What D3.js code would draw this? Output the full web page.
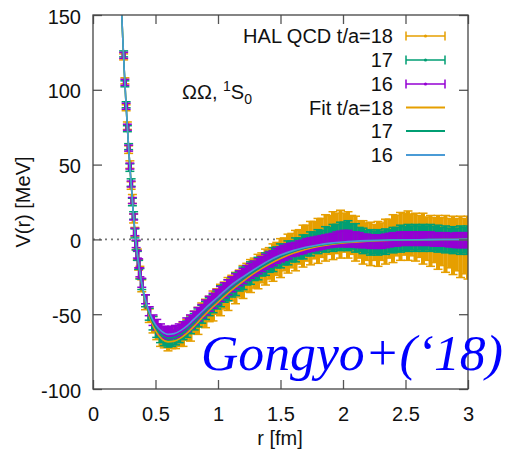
<!DOCTYPE html>
<html>
<head>
<meta charset="utf-8">
<script src="https://cdn.jsdelivr.net/npm/d3@7"></script>
<style>
  html, body { margin: 0; padding: 0; background: #fff; }
  svg { display: block; }
</style>
</head>
<body>
<svg id="chart" width="507" height="451"></svg>
<script>
// ---------------- data ----------------
const xTicks = [0, 0.5, 1, 1.5, 2, 2.5, 3];
const xTickLabels = ["0", "0.5", "1", "1.5", "2", "2.5", "3"];
const yTicks = [-100, -50, 0, 50, 100, 150];
const yTickLabels = ["-100", "-50", "0", "50", "100", "150"];

// lattice distances r [fm]
const rData = [
  0.245,0.255,0.265,0.275,0.285,0.295,0.305,0.315,0.325,0.335,0.345,0.355,0.365,0.375,
  0.39,0.42,0.45,0.48,0.51,0.54,0.57,0.60,0.63,0.66,
  0.69,0.72,0.75,0.78,0.81,0.84,0.87,0.90,0.93,0.96,
  0.99,1.02,1.05,1.08,1.11,1.14,1.17,1.20,1.23,1.26,
  1.29,1.32,1.35,1.38,1.41,1.44,1.47,1.50,1.53,1.56,
  1.59,1.62,1.65,1.68,1.71,1.74,1.77,1.80,1.83,1.86,
  1.89,1.92,1.95,1.98,2.01,2.04,2.07,2.10,2.13,2.16,
  2.19,2.22,2.25,2.28,2.31,2.34,2.37,2.40,2.43,2.46,
  2.49,2.52,2.55,2.58,2.61,2.64,2.67,2.70,2.73,2.76,
  2.79,2.82,2.85,2.88,2.91,2.94,2.97,3.00
];

// HAL QCD t/a = 18
const v18 = [
  122,106,88,76,60,50,36,27,14,5,-4,-10,-17,-22,
  -31,-42,-51,-57,-62,-65,-67,-67.5,-67,-66,
  -65,-63.5,-60.5,-59.5,-55.5,-54.5,-50.5,-49.5,-46.5,-44.5,
  -41.5,-40.5,-37.5,-36.5,-32.5,-32.5,-29.5,-28.5,-25.5,-24.5,
  -22.5,-21.5,-19,-18.5,-16,-15.5,-13,-12.5,-10,-9.5,
  -7.5,-7.5,-5,-4.5,-2.5,-2.5,-0.5,-1,1,1,
  3,2.5,4,3.5,4.5,3,3,0.5,0,-2,
  -1.5,-3,-2,-3,-1.5,-1.5,0.5,0.5,2.5,2,
  3.5,2.5,3,1.5,2,0.5,0.5,-1,-0.5,-2,
  -1.5,-3,-2.5,-4,-3.5,-5,-4.5,-5.5
];
const e18 = [
  2,2,2,2.5,2.5,2.5,2.5,3,3,3,3,3.5,3.5,4,
  4,5,4.5,5.5,5,6.5,5.5,7,6,7,
  6.5,8,7,8.5,7.5,9,8,9.5,8.5,10,
  8.5,10.5,9,11,8.5,10.5,9,11,9.5,11,
  10,11.5,10,12,10.5,12.5,11,13,11,13,
  11.5,13.5,11.5,14,12,14.5,12.5,15,13,15.5,
  13,16,13.5,16,13,15.5,13,15,12.5,14.5,
  12.5,14.5,12,15,12.5,15,13,16,13.5,16,
  14,16.5,14,16,14,17,14.5,17,15,18,
  16,19,16.5,19.5,17.5,20.5,18.5,21
];

// HAL QCD t/a = 17
const v17 = [
  124,104,90,74,62,48,38,25,16,4,-4,-11,-17,-23,
  -30,-41,-50,-56,-61,-64,-66,-67,-66.5,-65.5,
  -64,-62,-60,-57.5,-55,-52.5,-50,-47.5,-45,-43,
  -40.5,-38,-36,-34,-32,-30,-28,-26,-24,-22.5,
  -21,-19.5,-18,-16.5,-15,-13.5,-12,-11,-10,-9,
  -8,-7,-6,-5,-4,-3,-2,-1.5,-1,0,
  0.5,1,1.5,2,2.5,2.5,2,1,0,-1,
  -1.5,-2,-2,-2,-2,-1.5,-1,-0.5,0,0.5,
  0.5,1,1,1,1,1,1,1,0.5,0.5,
  0,0,-0.5,-0.5,-0.5,-0.5,-0.5,-0.5
];
const e17 = [
  2,2,2,2,2,2.5,2.5,2.5,2.5,3,3,3,3,3.5,
  3.5,4,4,4.5,4.5,5,5,5,5,5,
  5,5,5.5,5.5,5.5,6,6,6,6,6,
  6,7,6,7,6.5,7.5,6.5,7.5,6.5,7.5,
  6.5,7.5,6.5,7.5,7,8,7,8,7,8,
  7,8,7,8,7,8,7,8,7,8.5,
  7.5,9,8.5,9.5,9,10,8.5,9.5,8,8.5,
  7.5,8.5,7.5,8.5,7.5,8.5,7.5,8.5,8,9,
  8,9,8,9,8,9,8,9,8,9,
  8,9,8,9,8,9.5,8.5,9.5
];

// HAL QCD t/a = 16
const v16 = [
  123,105,89,75,61,49,37,26,15,5,-3,-10,-16,-22,
  -29,-40,-48,-54,-57,-60,-62,-62.5,-62,-61.5,
  -60.5,-59,-57,-55,-52.5,-50,-48,-45.5,-43,-41,
  -38.5,-36.5,-34,-32,-30,-28,-26,-24.5,-22.5,-21,
  -19.5,-18,-16.5,-15,-13.5,-12.5,-11,-10,-9,-8,
  -7,-6.5,-5.5,-5,-4,-3.5,-3,-2.5,-2,-1.5,
  -1,-0.5,0,0.5,0.5,0.5,0,0,-0.5,-1,
  -1,-1.5,-1.5,-1.5,-1.5,-1,-0.5,0,0,0.5,
  0.5,0.5,0.5,0.5,0.5,0.5,0.5,0.5,0,0,
  0,0,-0.5,-0.5,-0.5,-0.5,-0.5,-0.5
];
const e16 = [
  2,2,2,2,2,2,2,2,2,2.5,2.5,2.5,3,3,
  3,3,3,3.5,3.5,3.5,4,4,4,4,
  4,4,4.5,4.5,4.5,4.5,4.5,5,5,5,
  5,5,5,5,5,5,5,5,5,5,
  5,5,5,5,5,5,5,5,5,5,
  4.5,4.5,4.5,4.5,4.5,4.5,4.5,4.5,4.5,4.5,
  4.5,4.5,5,5,5.5,5.5,5,5,5,4.5,
  4.5,4.5,4.5,4.5,4.5,4.5,4.5,4.5,4.5,4.5,
  4.5,4.5,4.5,4.5,4.5,4.5,4.5,4.5,4.5,4.5,
  4.5,4.5,4.5,4.5,5,5,5,5
];

// fitted potentials
const fitR = [0.22,0.23,0.24,0.25,0.26,0.27,0.28,0.29,0.30,0.31,0.32,0.33,0.34,0.35,0.36,0.38,0.40,0.43,0.46,0.50,0.55,0.60,0.65,0.70,0.75,0.80,0.90,1.0,1.1,1.2,1.3,1.4,1.5,1.6,1.7,1.8,1.9,2.0,2.2,2.4,2.6,2.8,3.0];
const fit18 = [172,150,131,113,97,82,68,55,43,32,20,10,0.5,-7,-13.5,-25,-34.5,-45.5,-53.5,-61,-66.5,-68.5,-68,-66,-62.8,-58.8,-50,-42,-34.5,-28,-22,-17,-12.8,-9.3,-6.7,-4.8,-3.4,-2.4,-1.2,-0.6,-0.3,-0.1,0];
const fit17 = [172,150,131,113,97,82,68,55,43,32,20,10,0.5,-7,-13.5,-25,-34,-44.5,-52,-59,-64,-66,-65.5,-63.5,-60.5,-56.5,-48,-40.5,-33,-26.5,-20.8,-15.8,-11.5,-8.2,-5.8,-4,-2.8,-1.9,-0.9,-0.4,-0.2,-0.1,0];
const fit16 = [172,150,131,113,97,82,68,55,43,32,20,10,0.5,-7,-13.5,-24.5,-33.5,-43.5,-50.5,-57,-61.5,-63.5,-63,-61,-58,-54,-46,-38.5,-31,-25,-19.5,-14.5,-10.5,-7.5,-5.3,-3.7,-2.5,-1.7,-0.8,-0.4,-0.2,-0.1,0];

const dataLabels = ["HAL QCD t/a=18", "17", "16"];
const fitLabels = ["Fit t/a=18", "17", "16"];

// ---------------- drawing ----------------
const SANS = "'Liberation Sans', Arial, sans-serif";
const svg = d3.select("#chart");
const L = 93, R = 468, T = 15, B = 389;

const x = d3.scaleLinear().domain([0, 3]).range([L, R]);
const y = d3.scaleLinear().domain([-100, 150]).range([B, T]);

const cOrange = "#E69F00", cGreen = "#009E73", cPurple = "#9400D3", cBlue = "#4a9bd6";

svg.append("defs").append("clipPath").attr("id", "clip")
  .append("rect").attr("x", L).attr("y", T).attr("width", R - L).attr("height", B - T);

// zero line
svg.append("line")
  .attr("x1", L).attr("x2", R).attr("y1", y(0)).attr("y2", y(0))
  .attr("stroke", "#777").attr("stroke-width", 1.6).attr("stroke-dasharray", "2,4");

const plot = svg.append("g").attr("clip-path", "url(#clip)");

function errorBars(vals, errs, color) {
  const g = plot.append("g");
  const pts = rData.map((r, i) => ({ r: r, v: vals[i], e: errs[i] }));
  const cap = 4.5;
  g.selectAll("line.bar").data(pts).join("line")
    .attr("class", "bar")
    .attr("x1", d => x(d.r)).attr("x2", d => x(d.r))
    .attr("y1", d => y(d.v - d.e)).attr("y2", d => y(d.v + d.e))
    .attr("stroke", color).attr("stroke-width", 4);
  g.selectAll("line.capt").data(pts).join("line")
    .attr("class", "capt")
    .attr("x1", d => x(d.r) - cap).attr("x2", d => x(d.r) + cap)
    .attr("y1", d => y(d.v + d.e)).attr("y2", d => y(d.v + d.e))
    .attr("stroke", color).attr("stroke-width", 1.5);
  g.selectAll("line.capb").data(pts).join("line")
    .attr("class", "capb")
    .attr("x1", d => x(d.r) - cap).attr("x2", d => x(d.r) + cap)
    .attr("y1", d => y(d.v - d.e)).attr("y2", d => y(d.v - d.e))
    .attr("stroke", color).attr("stroke-width", 1.5);
}
errorBars(v18, e18, cOrange);
errorBars(v17, e17, cGreen);
errorBars(v16, e16, cPurple);

const line = d3.line().x(d => x(d[0])).y(d => y(d[1])).curve(d3.curveMonotoneX);
[[fit18, cOrange], [fit17, cGreen], [fit16, cBlue]].forEach(([vals, col]) => {
  plot.append("path")
    .datum(fitR.map((r, i) => [r, vals[i]]))
    .attr("d", line).attr("fill", "none")
    .attr("stroke", col).attr("stroke-width", 1.6);
});

// axes (ticks inward, mirrored)
const fs = 20;
const axB = d3.axisBottom(x).tickValues(xTicks).tickSize(-9).tickPadding(18)
  .tickFormat((d, i) => xTickLabels[i]);
const gB = svg.append("g").attr("transform", `translate(0,${B})`).call(axB);
const axL = d3.axisLeft(y).tickValues(yTicks).tickSize(-9).tickPadding(12)
  .tickFormat((d, i) => yTickLabels[i]);
const gL = svg.append("g").attr("transform", `translate(${L},0)`).call(axL);
const gT = svg.append("g").attr("transform", `translate(0,${T})`)
  .call(d3.axisTop(x).tickValues(xTicks).tickSize(-9).tickFormat(""));
const gR = svg.append("g").attr("transform", `translate(${R},0)`)
  .call(d3.axisRight(y).tickValues(yTicks).tickSize(-9).tickFormat(""));
[gB, gL, gT, gR].forEach(g => {
  g.select(".domain").remove();
  g.selectAll(".tick line").attr("stroke", "#555").attr("stroke-width", 1.3);
  g.selectAll("text").style("font-size", fs + "px").style("fill", "#111")
    .style("font-family", SANS);
});
gL.selectAll("text").attr("dy", "0.4em");

// border
svg.append("rect").attr("x", L).attr("y", T).attr("width", R - L).attr("height", B - T)
  .attr("fill", "none").attr("stroke", "#444").attr("stroke-width", 1.3);

function txt(sel) {
  return sel.style("font-family", SANS).style("font-size", fs + "px").style("fill", "#111");
}

// axis titles
txt(svg.append("text")).attr("x", (L + R) / 2 - 0.5).attr("y", 445)
  .attr("text-anchor", "middle").text("r [fm]");
txt(svg.append("text")).attr("transform", "translate(30,202) rotate(-90)")
  .attr("text-anchor", "middle").text("V(r) [MeV]");

// system label
const t = txt(svg.append("text")).attr("x", 182).attr("y", 99);
t.append("tspan").text("ΩΩ, ");
t.append("tspan").style("font-size", "14px").attr("dy", -8).text("1");
t.append("tspan").attr("dy", 8).text("S");
t.append("tspan").style("font-size", "14px").attr("dy", 5).text("0");

// legend
const legY = [36, 60, 84, 107.5, 131, 155];
const lx1 = 406, lx2 = 445, ltx = 393;
const dataCols = [cOrange, cGreen, cPurple];
const fitCols = [cOrange, cGreen, cBlue];
const leg = svg.append("g");
dataLabels.forEach((lab, i) => {
  const yy = legY[i];
  txt(leg.append("text")).attr("x", ltx).attr("y", yy + 7).attr("text-anchor", "end").text(lab);
  const c = dataCols[i];
  leg.append("line").attr("x1", lx1).attr("x2", lx2).attr("y1", yy).attr("y2", yy)
    .attr("stroke", c).attr("stroke-width", 1.5);
  [lx1, lx2].forEach(xx => leg.append("line").attr("x1", xx).attr("x2", xx)
    .attr("y1", yy - 4.5).attr("y2", yy + 4.5).attr("stroke", c).attr("stroke-width", 1.5));
  leg.append("circle").attr("cx", (lx1 + lx2) / 2).attr("cy", yy).attr("r", 1.6).attr("fill", c);
});
fitLabels.forEach((lab, i) => {
  const yy = legY[i + 3];
  txt(leg.append("text")).attr("x", ltx).attr("y", yy + 7).attr("text-anchor", "end").text(lab);
  leg.append("line").attr("x1", lx1).attr("x2", lx2).attr("y1", yy).attr("y2", yy)
    .attr("stroke", fitCols[i]).attr("stroke-width", 1.8);
});

// citation (fit its width to the reference span 201..504)
const cite = svg.append("text").attr("x", 201).attr("y", 370)
  .style("font-family", "'Liberation Serif', 'DejaVu Serif', serif")
  .style("font-style", "italic").style("font-size", "52px")
  .style("fill", "#0000ff").text("Gongyo+(\u201818)");
const cw = cite.node().getComputedTextLength();
if (cw > 0) cite.style("font-size", (52 * 302 / cw).toFixed(2) + "px");
</script>
</body>
</html>
